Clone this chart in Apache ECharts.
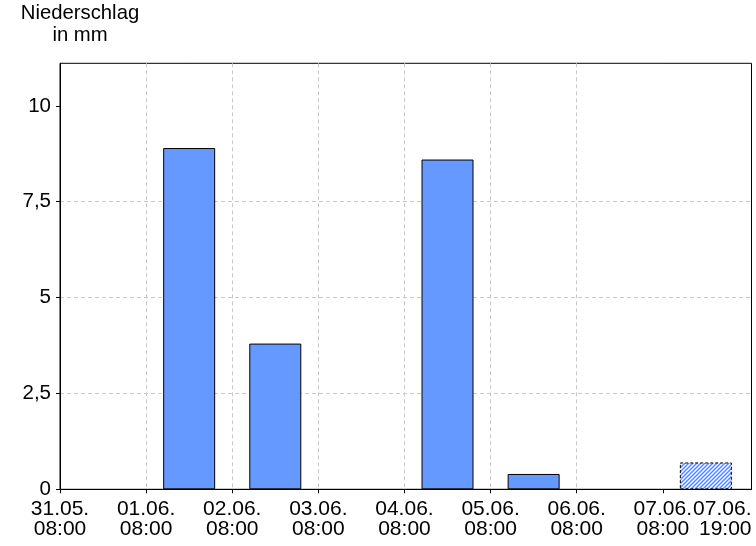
<!DOCTYPE html>
<html><head><meta charset="utf-8">
<script src="https://cdn.jsdelivr.net/npm/echarts@6/dist/echarts.min.js"></script>
<style>html,body{margin:0;padding:0;background:#fff}#c{width:756px;height:546px}</style>
</head><body><div id="c"></div>
<script>
// ---- data ----
const dayLabels = ['31.05.\n08:00','01.06.\n08:00','02.06.\n08:00','03.06.\n08:00','04.06.\n08:00','05.06.\n08:00','06.06.\n08:00','07.06.\n08:00'];
const endLabel = '07.06.\n19:00';
const precipitation = [0, 8.9, 3.8, 0, 8.6, 0.4, 0, 0.7];
const isForecast = [false, false, false, false, false, false, false, true];
const yTickValues = [0, 2.5, 5, 7.5, 10];
const yMax = 11.11;
const xMax = 8.03;
const yTitle = 'Niederschlag\nin mm';

// ---- styles ----
const FONT = "'Liberation Sans', Arial, sans-serif";
const hatch = document.createElement('canvas');
hatch.width = 4; hatch.height = 4;
(function () {
  const g = hatch.getContext('2d');
  g.fillStyle = '#fff'; g.fillRect(0, 0, 4, 4);
  g.strokeStyle = '#5588FF'; g.lineWidth = 1.5;
  g.beginPath();
  g.moveTo(-1, 5); g.lineTo(5, -1);
  g.moveTo(-1, 1); g.lineTo(1, -1);
  g.moveTo(3, 5); g.lineTo(5, 3);
  g.stroke();
})();

const dayTicks = dayLabels.map((_, i) => i);
const seriesData = precipitation.map((v, i) => ({
  value: [i + 0.5, v],
  itemStyle: isForecast[i]
    ? { color: { image: hatch, repeat: 'repeat' }, borderColor: '#000', borderWidth: 1, borderType: [3, 2] }
    : (v === 0 ? { borderWidth: 0 } : undefined)
}));

const gridColors = dayTicks.slice(1).map(() => '#c8c8c8').concat(['rgba(0,0,0,0)']);

const chart = echarts.init(document.getElementById('c'), null, { renderer: 'canvas' });
chart.setOption({
  animation: false,
  backgroundColor: '#fff',
  grid: { left: 60, right: 4.5, top: 63.3, bottom: 56.7, show: true, borderColor: '#000', borderWidth: 1, backgroundColor: 'transparent' },
  graphic: [{
    type: 'text', x: 80, y: 3,
    style: { text: yTitle, font: '20.3px ' + FONT, fill: '#000', align: 'center', verticalAlign: 'top', lineHeight: 21.5 }
  }],
  xAxis: {
    type: 'value', min: 0, max: xMax, interval: 1,
    axisLine: { show: true, lineStyle: { color: '#000', width: 1 } },
    axisTick: { show: true, customValues: dayTicks, length: 4, lineStyle: { color: '#000' } },
    axisLabel: {
      customValues: dayTicks.concat([xMax]),
      formatter: v => (v > dayLabels.length - 0.5 ? endLabel : dayLabels[Math.round(v)]),
      color: '#000', fontSize: 21, lineHeight: 20, fontFamily: FONT, margin: 10,
      alignMaxLabel: 'right'
    },
    splitLine: { show: true, showMinLine: false, showMaxLine: false, lineStyle: { color: gridColors, type: [4, 3], width: 1 } }
  },
  yAxis: {
    type: 'value', min: 0, max: yMax, interval: 2.5,
    axisLine: { show: true, lineStyle: { color: '#000', width: 1 } },
    axisTick: { show: true, customValues: yTickValues, length: 4, lineStyle: { color: '#000' } },
    axisLabel: {
      customValues: yTickValues,
      formatter: v => String(v).replace('.', ','),
      color: '#000', fontSize: 20.5, fontFamily: FONT, margin: 9
    },
    splitLine: { show: true, showMinLine: false, showMaxLine: false, lineStyle: { color: '#c8c8c8', type: [4, 3], width: 1 } }
  },
  series: [{
    type: 'bar', barWidth: 52,
    itemStyle: { color: '#6699FF', borderColor: '#000', borderWidth: 1 },
    data: seriesData
  }]
});
</script>
</body></html>
